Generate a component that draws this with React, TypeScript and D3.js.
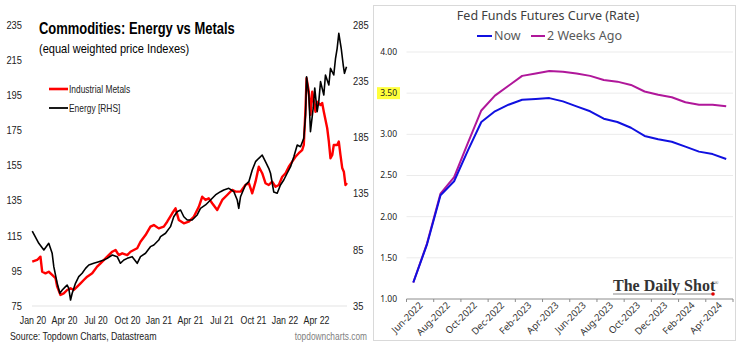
import * as d3 from 'd3';

// ---- Left panel: Commodities, Energy vs Metals ----
const metalsDates = [
  2020.002, 2020.041, 2020.067, 2020.081, 2020.107, 2020.133, 2020.16, 2020.187, 2020.2, 2020.226,
  2020.252, 2020.279, 2020.306, 2020.332, 2020.359, 2020.385, 2020.411, 2020.438, 2020.478, 2020.517,
  2020.544, 2020.597, 2020.637, 2020.663, 2020.689, 2020.716, 2020.756, 2020.782, 2020.808, 2020.835,
  2020.861, 2020.901, 2020.94, 2020.967, 2021.006, 2021.046, 2021.073, 2021.113, 2021.139, 2021.165,
  2021.205, 2021.244, 2021.284, 2021.324, 2021.351, 2021.377, 2021.403, 2021.43, 2021.47, 2021.51,
  2021.549, 2021.589, 2021.615, 2021.655, 2021.694, 2021.721, 2021.748, 2021.774, 2021.8, 2021.827,
  2021.853, 2021.879, 2021.906, 2021.933, 2021.959, 2021.986, 2022.012, 2022.038, 2022.065, 2022.091,
  2022.117, 2022.144, 2022.157, 2022.171, 2022.179, 2022.197, 2022.21, 2022.224, 2022.25, 2022.263,
  2022.29, 2022.303, 2022.316, 2022.343, 2022.356, 2022.369, 2022.383, 2022.395, 2022.422, 2022.435,
  2022.448, 2022.462, 2022.475, 2022.488, 2022.5,
];
const metalsValues = [
  100.2, 101.2, 103.1, 94.5, 93.6, 94.5, 92.7, 90.8, 86.0, 81.3,
  82.2, 84.1, 85.1, 84.1, 86.0, 87.9, 89.8, 91.7, 93.6, 97.4,
  99.3, 103.1, 105.9, 106.9, 104.0, 105.0, 104.0, 105.9, 106.9, 107.9,
  111.6, 115.4, 120.2, 121.1, 119.2, 120.2, 123.0, 127.8, 130.6, 124.0,
  122.1, 123.0, 125.8, 131.5, 137.2, 135.4, 136.3, 133.5, 129.7, 135.4,
  138.2, 141.1, 140.1, 140.1, 143.9, 144.9, 139.2, 145.8, 154.3, 150.6,
  144.9, 143.9, 145.8, 142.9, 143.9, 148.6, 150.6, 154.3, 157.2, 160.0,
  162.0, 163.8, 166.7, 187.7, 204.7, 197.0, 183.8, 197.0, 185.6, 191.3,
  189.4, 190.6, 185.6, 176.2, 168.6, 159.1, 161.0, 166.7, 166.7, 168.6,
  161.0, 153.6, 151.5, 143.9, 145.0,
];

const energyDates = [
  2020.002, 2020.054, 2020.094, 2020.133, 2020.16, 2020.173, 2020.2, 2020.221, 2020.24, 2020.266,
  2020.279, 2020.292, 2020.306, 2020.319, 2020.345, 2020.371, 2020.398, 2020.425, 2020.451, 2020.49,
  2020.53, 2020.57, 2020.597, 2020.637, 2020.676, 2020.702, 2020.729, 2020.756, 2020.795, 2020.835,
  2020.861, 2020.901, 2020.94, 2020.967, 2021.006, 2021.02, 2021.06, 2021.099, 2021.125, 2021.152,
  2021.179, 2021.205, 2021.232, 2021.271, 2021.311, 2021.337, 2021.377, 2021.417, 2021.456, 2021.496,
  2021.522, 2021.562, 2021.602, 2021.629, 2021.641, 2021.655, 2021.694, 2021.721, 2021.748, 2021.774,
  2021.8, 2021.827, 2021.853, 2021.879, 2021.893, 2021.919, 2021.946, 2021.972, 2021.998, 2022.025,
  2022.052, 2022.078, 2022.105, 2022.131, 2022.157, 2022.171, 2022.179, 2022.197, 2022.21, 2022.232,
  2022.244, 2022.263, 2022.276, 2022.29, 2022.316, 2022.329, 2022.356, 2022.369, 2022.395, 2022.409,
  2022.422, 2022.435, 2022.454, 2022.47, 2022.48, 2022.496,
];
const energyValues = [
  101.7, 90.8, 84.8, 90.8, 81.9, 70.0, 55.2, 46.3, 49.2, 52.2,
  53.7, 50.7, 40.3, 46.3, 55.2, 61.1, 64.1, 68.5, 71.5, 73.0,
  74.4, 75.9, 77.4, 80.4, 78.9, 73.0, 75.9, 77.4, 78.9, 73.0,
  78.9, 81.9, 87.8, 89.3, 93.7, 96.7, 99.7, 105.6, 114.4, 118.9,
  120.4, 114.4, 111.5, 111.5, 116.0, 121.9, 124.9, 129.3, 133.8, 136.7,
  138.2, 139.7, 136.7, 129.3, 121.9, 132.2, 142.7, 145.6, 156.0, 163.4,
  166.4, 169.3, 163.4, 157.5, 153.1, 136.4, 135.3, 142.7, 147.1, 153.1,
  158.9, 167.8, 178.2, 176.7, 184.2, 204.9, 239.0, 222.7, 190.1, 211.2,
  229.0, 207.9, 216.8, 234.6, 222.7, 240.5, 231.6, 246.5, 240.5, 255.4,
  264.3, 277.6, 264.3, 249.4, 242.0, 247.9,
];

const leftTicks = [75, 95, 115, 135, 155, 175, 195, 215, 235];
const rightTicks = [35, 85, 135, 185, 235, 285];
const quarterPos = [2020, 2020.25, 2020.5, 2020.75, 2021, 2021.25, 2021.5, 2021.75, 2022, 2022.25];
const quarterLabels = ['Jan 20', 'Apr 20', 'Jul 20', 'Oct 20', 'Jan 21', 'Apr 21', 'Jul 21', 'Oct 21', 'Jan 22', 'Apr 22'];

// ---- Right panel: Fed Funds Futures Curve ----
const fedMonths = [
  'Jun-2022', 'Jul-2022', 'Aug-2022', 'Sep-2022', 'Oct-2022', 'Nov-2022', 'Dec-2022', 'Jan-2023',
  'Feb-2023', 'Mar-2023', 'Apr-2023', 'May-2023', 'Jun-2023', 'Jul-2023', 'Aug-2023', 'Sep-2023',
  'Oct-2023', 'Nov-2023', 'Dec-2023', 'Jan-2024', 'Feb-2024', 'Mar-2024', 'Apr-2024', 'May-2024',
];
const fedNow = [
  1.2, 1.66, 2.26, 2.43, 2.8, 3.15, 3.28, 3.36, 3.42, 3.43, 3.44, 3.4,
  3.34, 3.28, 3.19, 3.15, 3.08, 2.98, 2.94, 2.91, 2.85, 2.79, 2.76, 2.7,
];
const fedTwoWeeks = [
  1.2, 1.67, 2.28, 2.48, 2.89, 3.29, 3.47, 3.59, 3.71, 3.74, 3.77, 3.76,
  3.74, 3.71, 3.66, 3.64, 3.6, 3.52, 3.48, 3.45, 3.39, 3.36, 3.36, 3.34,
];
const fedTicks = [1, 1.5, 2, 2.5, 3, 3.5, 4];

const arial = '"Liberation Sans", Arial, sans-serif';
const sans = '"Noto Sans", "Open Sans", sans-serif';

// Arial Narrow isn't available, so squeeze Liberation Sans horizontally
const NText = ({ x, y, sx = 0.82, children, ...rest }: any) => (
  <text transform={`translate(${x},${y}) scale(${sx},1)`} fontFamily={arial} {...rest}>
    {children}
  </text>
);

const App = () => {
  const xL = d3.scaleLinear().domain([2020, 2022.5]).range([32, 347]);
  const yL = d3.scaleLinear().domain([75, 235]).range([306, 25]);
  const yR = d3.scaleLinear().domain([35, 285]).range([306, 25]);

  const metalsLine = d3.line<number>()
    .x((_, i) => xL(metalsDates[i]))
    .y((d) => yL(d));
  const energyLine = d3.line<number>()
    .x((_, i) => xL(energyDates[i]))
    .y((d) => yR(d));

  const xF = d3.scaleBand().domain(fedMonths).range([406.5, 733]);
  const bw = xF.bandwidth();
  const yF = d3.scaleLinear().domain([1, 4]).range([299, 52]);
  const fedLine = d3.line<number>()
    .x((_, i) => (xF(fedMonths[i]) as number) + bw / 2)
    .y((d) => yF(d));

  const tickXs = fedMonths.filter((_, i) => i % 2 === 0).map((m) => xF(m) as number).concat([733]);

  return (
    <svg width={750} height={362} style={{ position: 'absolute', left: 0, top: 0, background: '#fff' }}>
      {/* left panel */}
      <g>
        <NText x={39} y={34} sx={0.81} fontWeight="bold" fontSize={16} fill="#000">
          Commodities: Energy vs Metals
        </NText>
        <NText x={39} y={53} sx={0.85} fontSize={13} fill="#000">
          (equal weighted price Indexes)
        </NText>

        <line x1={xL(2020)} x2={xL(2022.5)} y1={yL(75)} y2={yL(75)} stroke="#e3e3e3" strokeWidth={1} />

        {leftTicks.map((t) => (
          <NText key={t} x={22} y={yL(t)} sx={0.85} dy="0.35em" textAnchor="end" fontSize={11} fill="#222">
            {t}
          </NText>
        ))}
        {rightTicks.map((t) => (
          <NText key={t} x={353} y={yR(t)} sx={0.85} dy="0.35em" fontSize={11} fill="#222">
            {t}
          </NText>
        ))}
        {quarterPos.map((p, i) => (
          <NText key={p} x={xL(p) + 1} y={324} sx={0.8} textAnchor="middle" fontSize={11} fill="#222">
            {quarterLabels[i]}
          </NText>
        ))}

        <path d={metalsLine(metalsValues) || ''} fill="none" stroke="#ff0000" strokeWidth={2.4} strokeLinejoin="round" />
        <path d={energyLine(energyValues) || ''} fill="none" stroke="#000" strokeWidth={1.6} strokeLinejoin="round" />

        <line x1={49} x2={68} y1={89} y2={89} stroke="#ff0000" strokeWidth={2.6} />
        <NText x={69} y={89} sx={0.8} dy="0.35em" fontSize={10.5} fill="#222">Industrial Metals</NText>
        <line x1={49} x2={68} y1={108} y2={108} stroke="#000" strokeWidth={1.8} />
        <NText x={69} y={108} sx={0.8} dy="0.35em" fontSize={10.5} fill="#222">Energy [RHS]</NText>

        <NText x={10} y={336} sx={0.8} dy="0.35em" fontSize={11} fill="#222">
          Source: Topdown Charts, Datastream
        </NText>
        <NText x={367} y={336} sx={0.76} dy="0.35em" textAnchor="end" fontSize={11} fill="#808080">
          topdowncharts.com
        </NText>
      </g>

      {/* right panel */}
      <g>
        <rect x={373.5} y={5.5} width={362} height={335} fill="#fff" stroke="#d9d9d9" strokeWidth={1} />
        <text x={548} y={20} textAnchor="middle" fontFamily={sans} fontSize={12.5} fill="#404040">
          Fed Funds Futures Curve (Rate)
        </text>

        <line x1={477} x2={492} y1={36} y2={36} stroke="#1010e0" strokeWidth={2} />
        <text x={494} y={36} dy="0.35em" fontFamily={sans} fontSize={12.5} fill="#595959">Now</text>
        <line x1={531} x2={545} y1={36} y2={36} stroke="#b0179a" strokeWidth={2} />
        <text x={547} y={36} dy="0.35em" fontFamily={sans} fontSize={12.5} fill="#595959">2 Weeks Ago</text>

        {fedTicks.filter((t) => t > 1).map((t) => (
          <line key={t} x1={406.5} x2={733} y1={yF(t)} y2={yF(t)} stroke="#ebebeb" strokeWidth={1} />
        ))}
        <rect x={377} y={yF(3.5) - 6} width={23} height={12} fill="#ffff3b" />
        {fedTicks.map((t) => (
          <text key={t} x={397} y={yF(t)} dy="0.35em" textAnchor="end" fontFamily={sans} fontSize={8.5} fill="#222">
            {t.toFixed(2)}
          </text>
        ))}

        <line x1={406.5} x2={733} y1={yF(1)} y2={yF(1)} stroke="#8c8c8c" strokeWidth={1} />
        {tickXs.map((x) => (
          <line key={x} x1={x} x2={x} y1={yF(1)} y2={yF(1) + 3} stroke="#8c8c8c" strokeWidth={1} />
        ))}
        {fedMonths.filter((_, i) => i % 2 === 0).map((m) => {
          const cx = (xF(m) as number) + bw / 2 + 10;
          return (
            <text key={m} x={cx} y={306} textAnchor="end" transform={`rotate(-45 ${cx} 306)`} fontFamily={sans} fontSize={9.5} fill="#333">
              {m}
            </text>
          );
        })}

        <path d={fedLine(fedTwoWeeks) || ''} fill="none" stroke="#b0179a" strokeWidth={2} strokeLinejoin="round" />
        <path d={fedLine(fedNow) || ''} fill="none" stroke="#1010e0" strokeWidth={2} strokeLinejoin="round" />

        <text x={613} y={291} fontFamily='"Liberation Serif", "DejaVu Serif", serif' fontWeight="bold" fontSize={16} fill="#333">
          The Daily Shot
        </text>
        <text x={714} y={285} fontFamily='"Liberation Serif", serif' fontSize={6} fill="#555">®</text>
        <line x1={613} x2={673} y1={294} y2={294} stroke="#888" strokeWidth={1.2} />
        <line x1={677} x2={713} y1={294} y2={294} stroke="#888" strokeWidth={1.2} />
        <circle cx={713} cy={294} r={1.8} fill="#e00000" />
      </g>
    </svg>
  );
};

export default App;
